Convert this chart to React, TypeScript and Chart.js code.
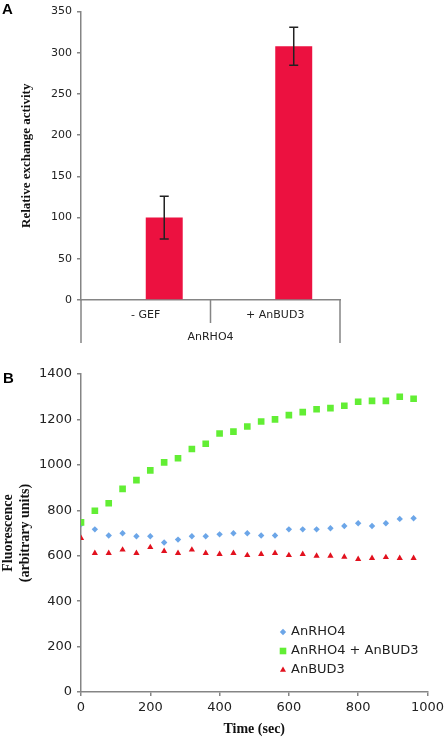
import React, { useEffect, useRef } from "react";
import { Chart, registerables } from "chart.js";

Chart.register(...registerables);

// ---------- Panel A data ----------
const barCategories = ["- GEF", "+ AnBUD3"];
const barGroupLabel = "AnRHO4";
const activityValues = [100, 308];
const activityErrors = [26, 23];

// ---------- Panel B data ----------
const timeSec = [0, 40, 80, 120, 160, 200, 240, 280, 320, 360, 400, 440, 480, 520, 560, 600, 640, 680, 720, 760, 800, 840, 880, 920, 960];
const rho4Values = [738, 716, 689, 699, 686, 686, 658, 671, 686, 686, 694, 699, 699, 689, 689, 716, 716, 716, 721, 731, 743, 731, 743, 762, 765];
const rho4Bud3Values = [747, 798, 831, 894, 933, 976, 1011, 1029, 1070, 1093, 1138, 1146, 1169, 1191, 1200, 1219, 1232, 1245, 1250, 1260, 1278, 1282, 1282, 1300, 1291];
const bud3Values = [677, 611, 611, 626, 611, 637, 620, 611, 626, 611, 607, 611, 602, 607, 611, 602, 607, 599, 599, 595, 585, 589, 593, 589, 589];
const seriesNames = ["AnRHO4", "AnRHO4 + AnBUD3", "AnBUD3"];

const BAR_COLOR = "#EC1140";
const BLUE = "#6CA6E8";
const GREEN = "#62EE34";
const RED = "#E2111E";
const AXIS = "#858585";
const TICK_TEXT = "#222";
const SANS = "'DejaVu Sans', Verdana, sans-serif";
const SERIF = "'Liberation Serif', 'Times New Roman', serif";

const plainTick = (v: any) => String(v);

const errorBarPlugin = {
  id: "errorBars",
  afterDatasetsDraw(chart: any) {
    const ctx = chart.ctx;
    const meta = chart.getDatasetMeta(1);
    const y = chart.scales.y;
    ctx.save();
    ctx.strokeStyle = "#222";
    ctx.lineWidth = 1.5;
    meta.data.forEach((bar: any, i: number) => {
      const v = activityValues[i];
      const e = activityErrors[i];
      const yTop = y.getPixelForValue(v + e);
      const yBot = y.getPixelForValue(v - e);
      ctx.beginPath();
      ctx.moveTo(bar.x, yTop);
      ctx.lineTo(bar.x, yBot);
      ctx.moveTo(bar.x - 4.5, yTop);
      ctx.lineTo(bar.x + 4.5, yTop);
      ctx.moveTo(bar.x - 4.5, yBot);
      ctx.lineTo(bar.x + 4.5, yBot);
      ctx.stroke();
    });
    ctx.restore();
  },
};

const separatorPlugin = {
  id: "separators",
  afterDraw(chart: any) {
    const ctx = chart.ctx;
    const x = chart.scales.x;
    const bottom = chart.chartArea.bottom;
    const mid = (x.getPixelForTick(0) + x.getPixelForTick(1)) / 2;
    ctx.save();
    ctx.strokeStyle = AXIS;
    ctx.lineWidth = 1.5;
    ctx.beginPath();
    ctx.moveTo(x.left, bottom);
    ctx.lineTo(x.left, bottom + 43);
    ctx.moveTo(x.right, bottom);
    ctx.lineTo(x.right, bottom + 43);
    ctx.moveTo(mid, bottom);
    ctx.lineTo(mid, bottom + 23);
    ctx.stroke();
    ctx.restore();
  },
};

function drawMarker(ctx: CanvasRenderingContext2D, style: string, x: number, y: number, color: string) {
  ctx.fillStyle = color;
  ctx.beginPath();
  if (style === "rectRot") {
    const r = 3.2;
    ctx.moveTo(x - r, y);
    ctx.lineTo(x, y - r);
    ctx.lineTo(x + r, y);
    ctx.lineTo(x, y + r);
  } else if (style === "rect") {
    const h = 3.3;
    ctx.rect(x - h, y - h, 2 * h, 2 * h);
  } else {
    const r = 3.5;
    ctx.moveTo(x, y - r);
    ctx.lineTo(x + r * Math.sin((2 * Math.PI) / 3), y - r * Math.cos((2 * Math.PI) / 3));
    ctx.lineTo(x + r * Math.sin((4 * Math.PI) / 3), y - r * Math.cos((4 * Math.PI) / 3));
  }
  ctx.closePath();
  ctx.fill();
}

const legendPlugin = {
  id: "insideLegend",
  afterDraw(chart: any) {
    const ctx = chart.ctx;
    const styles = ["rectRot", "rect", "triangle"];
    const colors = [BLUE, GREEN, RED];
    ctx.save();
    ctx.font = `13px ${SANS}`;
    ctx.textBaseline = "middle";
    seriesNames.forEach((name, i) => {
      const yy = 277 + i * 19;
      drawMarker(ctx, styles[i], 283, yy, colors[i]);
      ctx.fillStyle = TICK_TEXT;
      ctx.fillText(name, 291, yy);
    });
    ctx.restore();
  },
};

function PanelA() {
  const ref = useRef<HTMLCanvasElement>(null);
  useEffect(() => {
    const chart = new Chart(ref.current!, {
      type: "bar",
      data: {
        labels: barCategories,
        datasets: [
          { data: barCategories.map(() => null), backgroundColor: "rgba(0,0,0,0)" },
          { data: activityValues, backgroundColor: BAR_COLOR, borderWidth: 0 },
        ],
      },
      options: {
        responsive: false,
        animation: false,
        events: [],
        layout: { padding: { left: 0, right: 108, top: 6, bottom: 0 } },
        plugins: { legend: { display: false }, tooltip: { enabled: false } },
        datasets: { bar: { categoryPercentage: 0.571, barPercentage: 1 } },
        scales: {
          x: {
            grid: { display: false, drawTicks: false },
            border: { display: true, color: AXIS, width: 1.5 },
            ticks: { font: { family: SANS, size: 11 }, color: TICK_TEXT, padding: 9 },
            title: { display: true, text: barGroupLabel, font: { family: SANS, size: 11 }, color: TICK_TEXT, padding: { top: 0, bottom: 6 } },
            afterFit: (s: any) => { s.height = 50; },
          },
          y: {
            min: 0,
            max: 350,
            ticks: { stepSize: 50, font: { family: SANS, size: 11 }, color: TICK_TEXT, padding: 5, callback: plainTick },
            grid: { drawOnChartArea: false, tickLength: 4, color: AXIS, lineWidth: 1.5 },
            border: { color: AXIS, width: 1.5 },
            title: { display: true, text: "Relative exchange activity", font: { family: SERIF, size: 13, weight: "bold" }, color: "#111", padding: { top: 19, bottom: 0 } },
            afterFit: (s: any) => { s.width = 81; },
          },
        },
      } as any,
      plugins: [errorBarPlugin, separatorPlugin],
    });
    return () => chart.destroy();
  }, []);
  return <canvas ref={ref} width={448} height={350} style={{ position: "absolute", left: 0, top: 0 }} />;
}

function PanelB() {
  const ref = useRef<HTMLCanvasElement>(null);
  useEffect(() => {
    const mk = (vals: number[]) => timeSec.map((t, i) => ({ x: t, y: vals[i] }));
    const chart = new Chart(ref.current!, {
      type: "scatter",
      data: {
        datasets: [
          { label: seriesNames[0], data: mk(rho4Values), pointStyle: "rectRot", pointRadius: 3.2, backgroundColor: BLUE, borderWidth: 0, order: 2 },
          { label: seriesNames[1], data: mk(rho4Bud3Values), pointStyle: "rect", pointRadius: 4.7, backgroundColor: GREEN, borderWidth: 0, order: 0 },
          { label: seriesNames[2], data: mk(bud3Values), pointStyle: "triangle", pointRadius: 3.6, backgroundColor: RED, borderWidth: 0, order: 1 },
        ],
      },
      options: {
        responsive: false,
        animation: false,
        events: [],
        layout: { padding: { left: 0, right: 16, top: 19, bottom: 0 } },
        plugins: { legend: { display: false }, tooltip: { enabled: false } },
        scales: {
          x: {
            type: "linear",
            min: 0,
            max: 1000,
            ticks: { stepSize: 200, font: { family: SANS, size: 13 }, color: TICK_TEXT, padding: 4, callback: plainTick },
            grid: { drawOnChartArea: false, tickLength: 4, color: AXIS, lineWidth: 1.5 },
            border: { color: AXIS, width: 1.5 },
            title: { display: true, text: "Time (sec)", font: { family: SERIF, size: 14, weight: "bold" }, color: "#111", padding: { top: 0, bottom: 1 } },
            afterFit: (s: any) => { s.height = 47; },
          },
          y: {
            min: 0,
            max: 1400,
            ticks: { stepSize: 200, font: { family: SANS, size: 13 }, color: TICK_TEXT, padding: 5, callback: plainTick },
            grid: { drawOnChartArea: false, tickLength: 4, color: AXIS, lineWidth: 1.5 },
            border: { color: AXIS, width: 1.5 },
            title: { display: true, text: ["Fluorescence", "(arbitrary units)"], font: { family: SERIF, size: 14, weight: "bold" }, color: "#111", padding: { top: 0, bottom: 0 } },
            afterFit: (s: any) => { s.width = 81; },
          },
        },
      } as any,
      plugins: [legendPlugin],
    });
    return () => chart.destroy();
  }, []);
  return <canvas ref={ref} width={448} height={384} style={{ position: "absolute", left: 0, top: 355 }} />;
}

export default function App() {
  const labelStyle: React.CSSProperties = {
    position: "absolute",
    fontFamily: "'Liberation Sans', Arial, sans-serif",
    fontWeight: "bold",
    fontSize: 15,
    lineHeight: "15px",
    color: "#000",
  };
  return (
    <div style={{ position: "absolute", left: 0, top: 0, width: 448, height: 739, background: "#fff", overflow: "hidden" }}>
      <PanelA />
      <PanelB />
      <div style={{ ...labelStyle, left: 2, top: 1 }}>A</div>
      <div style={{ ...labelStyle, left: 3, top: 370 }}>B</div>
    </div>
  );
}
